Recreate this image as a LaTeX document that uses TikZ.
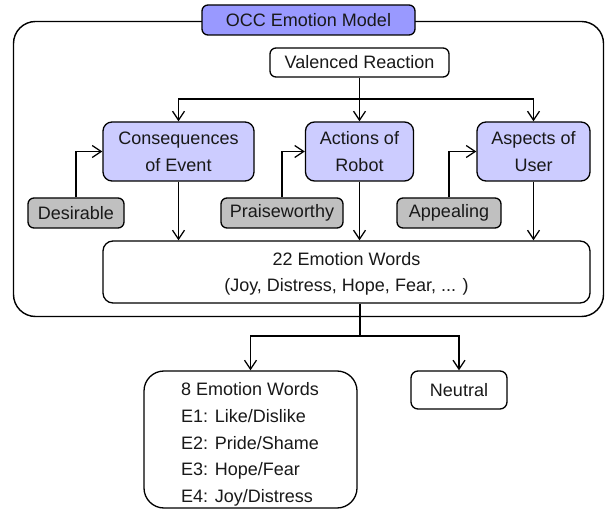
\documentclass[tikz,border=0pt]{standalone}
\usepackage{fontspec}
\setmainfont{Liberation Sans}
\usetikzlibrary{arrows.meta}
\definecolor{titlefill}{RGB}{153,153,255}
\definecolor{catfill}{RGB}{204,204,255}
\definecolor{grayfill}{RGB}{192,192,192}
\definecolor{txt}{RGB}{25,25,25}
\tikzset{
  box/.style={draw, line width=1.3pt, rounded corners=6pt, align=center, inner sep=0pt,
    text=txt, font=\fontsize{18}{26.5}\selectfont},
  catbox/.style={box, fill=catfill, rounded corners=9pt, text depth=-5pt},
  attrbox/.style={box, fill=grayfill},
  conn/.style={line width=1.3pt},
  arr/.style={conn, -{Straight Barb[length=9pt,width=12pt,line width=1.3pt]}}
}
\begin{document}
\begin{tikzpicture}[x=1pt,y=-1pt]
\useasboundingbox (0,0) rectangle (607,510);
% frame
\node[draw, line width=1.4pt, rounded corners=22pt, minimum width=590pt, minimum height=295pt, inner sep=0pt] (frame) at (308.5,169) {};
\node[box, fill=titlefill, minimum width=213pt, minimum height=30pt] (title) at (308.5,20) {OCC Emotion Model};
% top
\node[box, fill=white, minimum width=179pt, minimum height=29pt] (val) at (359.5,62.5) {Valenced Reaction};
\node[catbox, minimum width=151pt, minimum height=59pt] (cons) at (178.5,151.5) {Consequences\\of Event};
\node[catbox, minimum width=108pt, minimum height=59pt] (act) at (359.5,151.5) {Actions of\\Robot};
\node[catbox, minimum width=113pt, minimum height=59pt] (asp) at (533.5,151.5) {Aspects of\\User};
\node[attrbox, minimum width=96pt, minimum height=30pt] (des) at (76,213) {Desirable};
\node[attrbox, minimum width=122pt, minimum height=30pt] (pra) at (282,213) {Praiseworthy};
\node[attrbox, minimum width=104pt, minimum height=30pt] (app) at (449,213) {Appealing};
\node[box, fill=white, rounded corners=10pt, text depth=-1.2pt, minimum width=487pt, minimum height=62pt] (words) at (346.5,272) {22 Emotion Words\\(Joy, Distress, Hope, Fear, ... )};
% bottom
\node[box, fill=white, rounded corners=20pt, minimum width=213pt, minimum height=137pt] (eight) at (250.5,439.5) {};
\node[text=txt, font=\fontsize{18}{26.7}\selectfont, align=left, inner sep=0pt] (eighttext) at (250,444.5) {8 Emotion Words\\E1: Like/Dislike\\E2: Pride/Shame\\E3: Hope/Fear\\E4: Joy/Distress};
\node[box, fill=white, rounded corners=7pt, minimum width=96pt, minimum height=38pt] (neu) at (459,390) {Neutral};
% connectors
\coordinate (vsplit) at (359.5,99);
\draw[conn] (val.south) -- (vsplit);
\draw[arr] (vsplit) -| (cons.north);
\draw[arr] (vsplit) -- (act.north);
\draw[arr] (vsplit) -| (asp.north);
\draw[arr] (des.north) |- (cons.west);
\draw[arr] (pra.north) |- (act.west);
\draw[arr] (app.north) |- (asp.west);
\draw[arr] (cons.south) -- (cons.south |- words.north);
\draw[arr] (act.south) -- (act.south |- words.north);
\draw[arr] (asp.south) -- (asp.south |- words.north);
\coordinate (bsplit) at (360,336);
\draw[conn] (bsplit |- words.south) -- (bsplit);
\draw[arr] (bsplit) -| (eight.north);
\draw[arr] (bsplit) -| (neu.north);
\end{tikzpicture}
\end{document}
